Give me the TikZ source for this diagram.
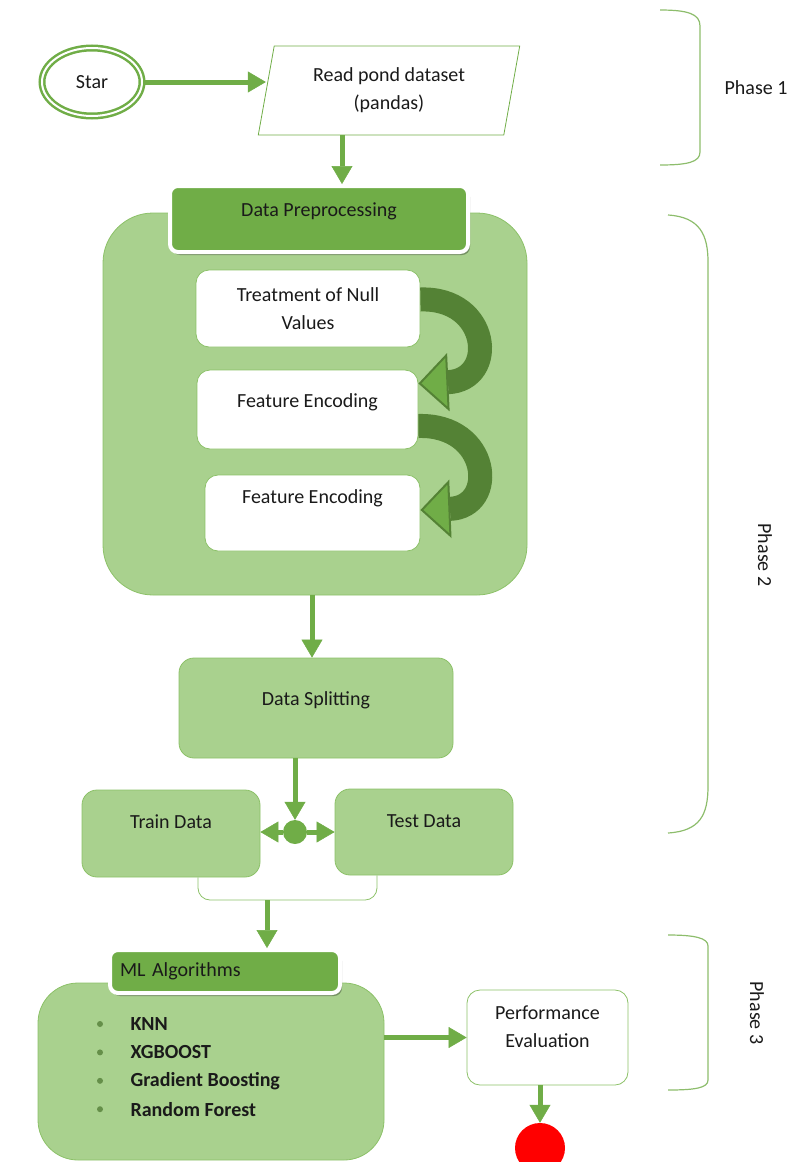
\documentclass[tikz,border=0pt]{standalone}
\usepackage{fontspec}
\setmainfont{Carlito}
\usetikzlibrary{shapes.geometric,arrows.meta,shadows}

\definecolor{darkgreen}{HTML}{70AD47}
\definecolor{lightgreen}{HTML}{A9D18E}
\definecolor{bandgreen}{HTML}{548235}
\definecolor{edgegreen}{HTML}{8CC168}
\definecolor{textgray}{HTML}{1A1A1A}

\tikzset{
  every node/.style={font=\fontsize{20}{28}\selectfont, text=textgray},
  arr/.style={draw=darkgreen, line width=5pt, -{Triangle[width=21pt,length=18pt,line width=0.5pt]}},
  band/.style={draw=bandgreen, line width=24pt, -{Triangle[width=58pt,length=30pt,fill=darkgreen,line width=2pt]}},
  startnode/.style={ellipse, draw=darkgreen, line width=2.5pt, double=white, double distance=2pt,
    minimum width=100pt, minimum height=68pt},
  readnode/.style={trapezium, trapezium left angle=78, trapezium right angle=102, trapezium stretches=true,
    draw=darkgreen, line width=0.8pt, align=center, minimum width=262pt, minimum height=89pt},
  bigbox/.style={fill=lightgreen, draw=edgegreen, line width=0.8pt},
  greenbox/.style={fill=lightgreen, draw=edgegreen, line width=0.8pt, rounded corners=15pt},
  whitebox/.style={fill=white, draw=edgegreen, line width=0.8pt, rounded corners=13pt},
  hdr/.style={fill=darkgreen, draw=white, line width=4pt, rounded corners=8pt,
    drop shadow={shadow xshift=2pt, shadow yshift=-3pt, opacity=0.3, fill=black}},
  link/.style={draw=edgegreen, line width=0.8pt, rounded corners=12pt},
  brace/.style={draw=darkgreen!80, line width=1.2pt},
}

\begin{document}
\begin{tikzpicture}[x=1pt, y=-1pt]
\useasboundingbox (0,0) rectangle (791,1162);

% phase 1
\node[startnode] (star) at (92,82) {Star};
\node[readnode] (read) at (389,90.5) {Read pond dataset\\(pandas)};
\draw[arr] (star.east) -- (star.east -| read.west);

% preprocessing block
\node[bigbox, rounded corners=50pt, minimum width=424pt, minimum height=382pt] (pre) at (315,404) {};
\node[hdr, minimum width=298pt, minimum height=66pt, text depth=18pt] (prehdr) at (319,219) {Data Preprocessing};
\coordinate (c1) at (342,0);
\draw[arr] (read.south -| c1) -- (prehdr.north -| c1);

\node[whitebox, align=center, minimum width=224pt, minimum height=77pt] (null) at (308,308.5) {Treatment of Null\\Values};
\node[whitebox, minimum width=221pt, minimum height=79pt, text depth=17pt] (enc1) at (307.5,409.5) {Feature Encoding};
\node[whitebox, minimum width=215pt, minimum height=76pt, text depth=32pt] (enc2) at (312.5,513) {Feature Encoding};

% curved arrows
\draw[band] ([yshift=9pt]null.east) .. controls (490,297) and (498,380) .. ([yshift=26pt]enc1.east);
\draw[band] ([yshift=-16.5pt]enc1.east) .. controls (490,424) and (498,507) .. ([yshift=3pt]enc2.east);

% splitting
\node[greenbox, minimum width=274pt, minimum height=100pt, text depth=18pt] (splitting) at (316,708) {Data Splitting};
\draw[arr] (pre.south -| splitting) ++(-4,0) coordinate (c2) -- (c2 |- splitting.north);

\node[greenbox, minimum width=178pt, minimum height=87pt, text depth=23pt] (train) at (171,833.5) {Train Data};
\node[greenbox, minimum width=178pt, minimum height=86pt, text depth=22pt] (test) at (424,832) {Test Data};
\node[circle, fill=darkgreen, minimum size=24pt, inner sep=0pt] (split) at (295,832) {};
\draw[arr] (split.north |- splitting.south) -- (split.north);
\draw[arr] (split) -- (split -| train.east);
\draw[arr] (split) -- (split -| test.west);

\coordinate (join) at (267,900);
\draw[link] ([xshift=27pt]train.south) |- (join) -| ([xshift=-47pt]test.south);

% phase 3
\node[bigbox, rounded corners=40pt, minimum width=346pt, minimum height=177pt] (ml) at (211,1071.5) {};
\node[hdr, minimum height=43pt, text width=210pt, inner xsep=10pt, align=left] (mlhdr) at (225,971.5) {ML Algorithms};
\draw[arr] (join) -- (join |- mlhdr.north);

\foreach \name/\i in {KNN/0, XGBOOST/1, Gradient Boosting/2, Random Forest/3}{
  \fill[bandgreen!90] (100,{1024+28.4*\i}) circle (3pt);
  \node[anchor=west, font={\fontsize{20}{28}\selectfont\bfseries}] (alg\i) at (127,{1024+28.4*\i}) {\name};
}

\node[whitebox, align=center, minimum width=161pt, minimum height=95pt, text depth=22pt] (perf) at (547.5,1037.5) {Performance\\Evaluation};
\draw[arr] (ml.east |- perf.west) -- (perf.west);
\node[circle, fill=red, minimum size=50pt, inner sep=0pt] (stop) at (540,1148) {};
\draw[arr] (stop.north |- perf.south) -- (stop.north);

% phase braces
\draw[brace] (660,10) .. controls (688,10) and (700,14) .. (700,26) -- (700,152) .. controls (700,162) and (688,165) .. (660,165);
\draw[brace] (668,215) .. controls (700,217) and (708,235) .. (708,262) -- (708,786) .. controls (708,815) and (700,831) .. (668,833);
\draw[brace] (668,935) .. controls (695,935) and (708,938) .. (708,946) -- (708,1080) .. controls (708,1088) and (695,1090) .. (668,1090);
\node (ph1) at (756,88) {Phase 1};
\node[rotate=-90] (ph2) at (765,555) {Phase 2};
\node[rotate=-90] (ph3) at (757,1013) {Phase 3};
\end{tikzpicture}
\end{document}
